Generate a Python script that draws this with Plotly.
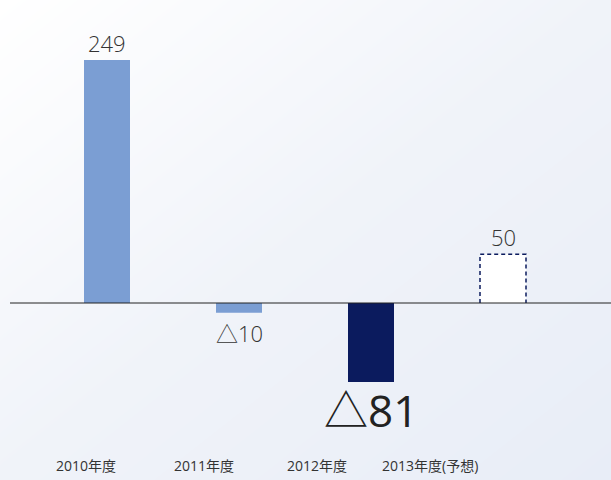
import plotly.graph_objects as go

categories = ["2010年度", "2011年度", "2012年度", "2013年度(予想)"]
values = [249, -10, -81, 50]
value_labels = ["249", "△10", "△81", "50"]
bar_colors = ["#7B9ED3", "#7B9ED3", "#0B1B5E", "#FFFFFF"]
label_sizes = [22, 22, 44, 22]
cat_label_px = [86, 204, 317, 430]

W, H = 611, 480
FONT = "Open Sans, Noto Sans CJK JP"
NAVY = "#0B1B5E"
bar_w = 46 / 132
idx = list(range(len(categories)))

fig = go.Figure()

# background gradient
fig.add_trace(go.Heatmap(
    z=[[1, 2], [0, 1]], x=[0, 1], y=[0, 1], zsmooth="best",
    colorscale=[[0, "#FFFFFF"], [0.5, "#F0F3F9"], [1, "#E8EDF7"]],
    showscale=False, hoverinfo="skip", xaxis="x", yaxis="y",
))

fig.add_trace(go.Bar(
    x=idx, y=values, width=bar_w, marker=dict(color=bar_colors, line=dict(width=0)),
    xaxis="x2", yaxis="y2", hoverinfo="skip",
))

# dashed outline for forecast bar
i = 3
v = values[i]
fig.add_trace(go.Scatter(
    x=[i - bar_w / 2, i - bar_w / 2, i + bar_w / 2, i + bar_w / 2],
    y=[0, v, v, 0], mode="lines",
    line=dict(color=NAVY, width=1.5, dash="4px,3px"),
    xaxis="x2", yaxis="y2", hoverinfo="skip",
))

annotations = []
for k, (val, lab, sz) in enumerate(zip(values, value_labels, label_sizes)):
    pos = val >= 0
    big = sz > 30
    annotations.append(dict(
        x=k, y=val, xref="x2", yref="y2", text=lab, showarrow=False,
        yanchor="bottom" if pos else "top", yshift=0 if pos else (4 if big else -3),
        font=dict(family=FONT, size=sz, weight=400 if big else 300,
                  color="#222222" if big else "#333333"),
    ))
for cat, px in zip(categories, cat_label_px):
    annotations.append(dict(
        x=px / W, y=1 - 465 / H, xref="paper", yref="paper", text=cat,
        showarrow=False, xanchor="center", yanchor="middle",
        font=dict(family=FONT, size=14, weight=400, color="#333333"),
    ))

r0 = -107 / 132
r1 = r0 + W / 132
ppu = 0.976
y_top = 303 / ppu
y_bot = -(H - 303) / ppu

fig.update_layout(
    width=W, height=H, margin=dict(l=0, r=0, t=0, b=0),
    paper_bgcolor="#FFFFFF", plot_bgcolor="rgba(0,0,0,0)", showlegend=False,
    xaxis=dict(domain=[0, 1], range=[0, 1], visible=False, fixedrange=True),
    yaxis=dict(domain=[0, 1], range=[0, 1], visible=False, fixedrange=True),
    xaxis2=dict(overlaying="x", range=[r0, r1], visible=False),
    yaxis2=dict(overlaying="y", range=[y_bot, y_top], visible=False),
    annotations=annotations,
    shapes=[dict(type="line", xref="paper", yref="y2", x0=10 / W, x1=1, y0=0, y1=0,
                 line=dict(color="#222222", width=1), layer="above")],
)

fig.write_html(
    "out.html",
    config={"displayModeBar": False},
    post_script="document.body.style.margin='0';document.body.style.overflow='hidden';",
)
